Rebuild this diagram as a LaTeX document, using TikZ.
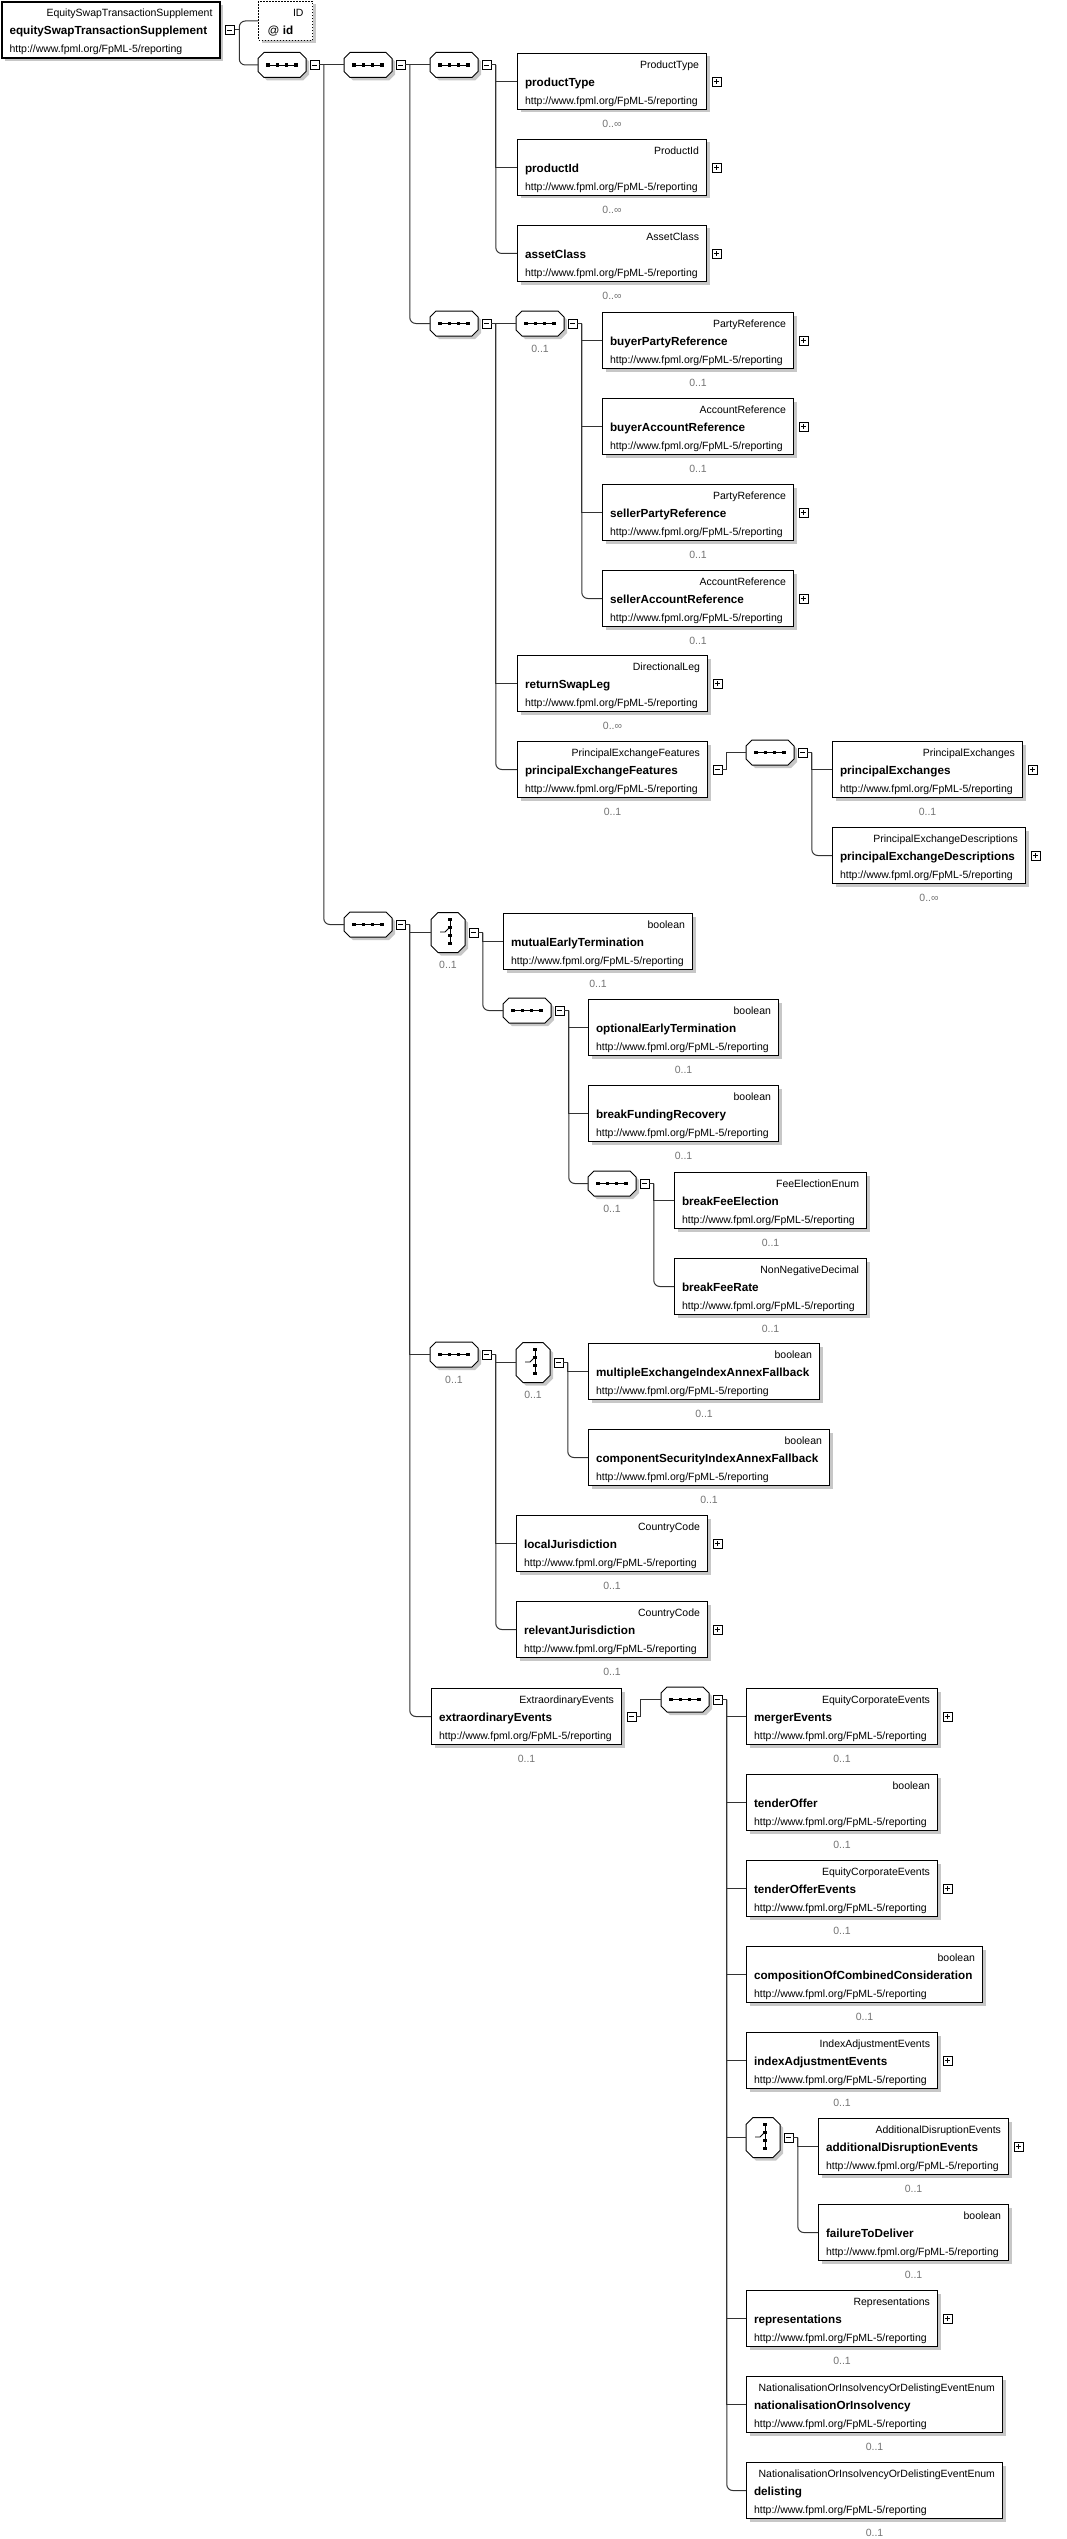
\documentclass[tikz,border=0pt]{standalone}
\usepackage{fontspec}
\setmainfont{Liberation Sans}
\usetikzlibrary{positioning,shadows}
\newcommand{\fpmlns}{http://www.fpml.org/FpML-5/reporting}
\newcommand{\eltype}[1]{\rule{0pt}{11.6pt}\hspace*{\fill}\mbox{#1}}
\newcommand{\elname}[1]{\mbox{\fontsize{11.7pt}{18pt}\selectfont\bfseries #1}}
\begin{document}
\begin{tikzpicture}[x=1pt,y=-1pt,line width=1pt,
boxshadow/.style={drop shadow={shadow xshift=3pt,shadow yshift=-3pt,opacity=1,fill=black!22}},
elem/.style={draw,fill=white,rectangle,boxshadow,align=left,inner xsep=7.5pt,inner ysep=0pt,minimum height=56pt,text width=#1,anchor=north west,font=\fontsize{10.5pt}{18pt}\selectfont},
attrbox/.style={elem=36pt,inner xsep=9pt,minimum height=39pt,dash pattern=on 1.5pt off 1.5pt},
occ/.style={inner sep=0pt,text height=7.5pt,text depth=0pt,text=black!55,font=\fontsize{10.5pt}{12pt}\selectfont},
toggle/.style={draw,fill=white,rectangle,minimum size=9pt,inner sep=0pt,line width=.8pt},
minus/.style={toggle,path picture={\draw[line width=.8pt] ([xshift=-2.5pt]path picture bounding box.center) -- ([xshift=2.5pt]path picture bounding box.center);}},
plus/.style={toggle,path picture={\draw[line width=.8pt] ([xshift=-2.5pt]path picture bounding box.center) -- ([xshift=2.5pt]path picture bounding box.center) ([yshift=-2.5pt]path picture bounding box.center) -- ([yshift=2.5pt]path picture bounding box.center);}},
seq/.style={rectangle,inner sep=0pt,anchor=west,minimum width=47pt,minimum height=24pt},
choice/.style={rectangle,inner sep=0pt,anchor=west,minimum width=33pt,minimum height=39pt},
link/.style={draw=black!80,line width=1pt}]
\useasboundingbox (0,0) rectangle (1067,2539);

% root element and its attribute
\node[elem=203pt,line width=2pt] (root) at (1,1) {\eltype{EquitySwapTransactionSupplement}\\\elname{equitySwapTransactionSupplement}\\\fpmlns};
\node[minus,right=4pt of root] (root-x) {};
\node[attrbox] (attr) at (258,1) {\eltype{ID}\\{\fontsize{11.7pt}{18pt}\selectfont @} \elname{id}};

% compositors
\node[seq] (seq1) at (258,65) {};
\node[seq] (seq2) at (344,65) {};
\node[seq] (seq3) at (430,65) {};
\node[seq] (seqA) at (430,323.5) {};
\node[seq] (seqB) at (516,323.5) {};
\node[seq] (seqC) at (746,752.5) {};
\node[seq] (seqT) at (344,924.5) {};
\node[choice] (choice1) at (431,932.5) {};
\node[seq] (seqD) at (503,1010.5) {};
\node[seq] (seqE) at (588,1183.5) {};
\node[seq] (seqF) at (430,1354.5) {};
\node[choice] (choice2) at (516,1362.5) {};
\node[seq] (seqG) at (661,1699.5) {};
\node[choice] (choice3) at (746,2137.5) {};
\foreach \c/\k in {seq1/6,seq2/6,seq3/6,seqA/6,seqB/6,seqC/6,seqT/6,seqD/6,seqE/6,seqF/6,seqG/6,choice1/7,choice2/7,choice3/7}{
  \fill[black!22] ([shift={(3+\k,3)}]\c.north west) -- ([shift={(3-\k,3)}]\c.north east) -- ([shift={(3,3+\k)}]\c.north east) -- ([shift={(3,3-\k)}]\c.south east) -- ([shift={(3-\k,3)}]\c.south east) -- ([shift={(3+\k,3)}]\c.south west) -- ([shift={(3,3-\k)}]\c.south west) -- ([shift={(3,3+\k)}]\c.north west) -- cycle;
  \draw[fill=white] ([shift={(\k,0)}]\c.north west) -- ([shift={(-\k,0)}]\c.north east) -- ([shift={(0,\k)}]\c.north east) -- ([shift={(0,-\k)}]\c.south east) -- ([shift={(-\k,0)}]\c.south east) -- ([shift={(\k,0)}]\c.south west) -- ([shift={(0,-\k)}]\c.south west) -- ([shift={(0,\k)}]\c.north west) -- cycle;
  \node[minus,right=3.5pt of \c] (\c-x) {};
}
\foreach \c in {seq1,seq2,seq3,seqA,seqB,seqC,seqT,seqD,seqE,seqF,seqG}{
  \draw[line width=.8pt] ([xshift=-14pt]\c.center) -- ([xshift=14pt]\c.center);
  \foreach \dx in {-14,-4.7,4.7,14}
    \fill ([xshift=\dx pt]\c.center) +(-1.7,-1.7) rectangle +(1.7,1.7);
}
\foreach \c in {choice1,choice2,choice3}{
  \draw[line width=.8pt] ([shift={(2,-13)}]\c.center) -- ([shift={(2,11)}]\c.center);
  \foreach \dy in {-13,-5,3,11}
    \fill ([shift={(2,\dy)}]\c.center) +(-1.7,-1.7) rectangle +(1.7,1.7);
  \draw[line width=.8pt] ([shift={(-8,-.5)}]\c.center) -- ([shift={(-3,-.5)}]\c.center) -- ([shift={(1.5,-5)}]\c.center);
}
\node[occ,below=8.3pt of seqB] (seqB-n) {0..1};
\node[occ,below=8.3pt of choice1] (choice1-n) {0..1};
\node[occ,below=8.3pt of seqE] (seqE-n) {0..1};
\node[occ,below=8.3pt of seqF] (seqF-n) {0..1};
\node[occ,below=8.3pt of choice2] (choice2-n) {0..1};

% elements
\node[elem=174pt] (productType) at (517,53) {\eltype{ProductType}\\\elname{productType}\\\fpmlns};
\node[elem=174pt] (productId) at (517,139) {\eltype{ProductId}\\\elname{productId}\\\fpmlns};
\node[elem=174pt] (assetClass) at (517,225) {\eltype{AssetClass}\\\elname{assetClass}\\\fpmlns};
\node[elem=176pt] (buyerPartyReference) at (602,312) {\eltype{PartyReference}\\\elname{buyerPartyReference}\\\fpmlns};
\node[elem=176pt] (buyerAccountReference) at (602,398) {\eltype{AccountReference}\\\elname{buyerAccountReference}\\\fpmlns};
\node[elem=176pt] (sellerPartyReference) at (602,484) {\eltype{PartyReference}\\\elname{sellerPartyReference}\\\fpmlns};
\node[elem=176pt] (sellerAccountReference) at (602,570) {\eltype{AccountReference}\\\elname{sellerAccountReference}\\\fpmlns};
\node[elem=175pt] (returnSwapLeg) at (517,655) {\eltype{DirectionalLeg}\\\elname{returnSwapLeg}\\\fpmlns};
\node[elem=175pt] (principalExchangeFeatures) at (517,741) {\eltype{PrincipalExchangeFeatures}\\\elname{principalExchangeFeatures}\\\fpmlns};
\node[elem=175pt] (principalExchanges) at (832,741) {\eltype{PrincipalExchanges}\\\elname{principalExchanges}\\\fpmlns};
\node[elem=178pt] (principalExchangeDescriptions) at (832,827) {\eltype{PrincipalExchangeDescriptions}\\\elname{principalExchangeDescriptions}\\\fpmlns};
\node[elem=174pt] (mutualEarlyTermination) at (503,913) {\eltype{boolean}\\\elname{mutualEarlyTermination}\\\fpmlns};
\node[elem=175pt] (optionalEarlyTermination) at (588,999) {\eltype{boolean}\\\elname{optionalEarlyTermination}\\\fpmlns};
\node[elem=175pt] (breakFundingRecovery) at (588,1085) {\eltype{boolean}\\\elname{breakFundingRecovery}\\\fpmlns};
\node[elem=177pt] (breakFeeElection) at (674,1172) {\eltype{FeeElectionEnum}\\\elname{breakFeeElection}\\\fpmlns};
\node[elem=177pt] (breakFeeRate) at (674,1258) {\eltype{NonNegativeDecimal}\\\elname{breakFeeRate}\\\fpmlns};
\node[elem=216pt] (multipleExchangeIndexAnnexFallback) at (588,1343) {\eltype{boolean}\\\elname{multipleExchangeIndexAnnexFallback}\\\fpmlns};
\node[elem=226pt] (componentSecurityIndexAnnexFallback) at (588,1429) {\eltype{boolean}\\\elname{componentSecurityIndexAnnexFallback}\\\fpmlns};
\node[elem=176pt] (localJurisdiction) at (516,1515) {\eltype{CountryCode}\\\elname{localJurisdiction}\\\fpmlns};
\node[elem=176pt] (relevantJurisdiction) at (516,1601) {\eltype{CountryCode}\\\elname{relevantJurisdiction}\\\fpmlns};
\node[elem=175pt] (extraordinaryEvents) at (431,1688) {\eltype{ExtraordinaryEvents}\\\elname{extraordinaryEvents}\\\fpmlns};
\node[elem=176pt] (mergerEvents) at (746,1688) {\eltype{EquityCorporateEvents}\\\elname{mergerEvents}\\\fpmlns};
\node[elem=176pt] (tenderOffer) at (746,1774) {\eltype{boolean}\\\elname{tenderOffer}\\\fpmlns};
\node[elem=176pt] (tenderOfferEvents) at (746,1860) {\eltype{EquityCorporateEvents}\\\elname{tenderOfferEvents}\\\fpmlns};
\node[elem=221pt] (compositionOfCombinedConsideration) at (746,1946) {\eltype{boolean}\\\elname{compositionOfCombinedConsideration}\\\fpmlns};
\node[elem=176pt] (indexAdjustmentEvents) at (746,2032) {\eltype{IndexAdjustmentEvents}\\\elname{indexAdjustmentEvents}\\\fpmlns};
\node[elem=175pt] (additionalDisruptionEvents) at (818,2118) {\eltype{AdditionalDisruptionEvents}\\\elname{additionalDisruptionEvents}\\\fpmlns};
\node[elem=175pt] (failureToDeliver) at (818,2204) {\eltype{boolean}\\\elname{failureToDeliver}\\\fpmlns};
\node[elem=176pt] (representations) at (746,2290) {\eltype{Representations}\\\elname{representations}\\\fpmlns};
\node[elem=241pt] (nationalisationOrInsolvency) at (746,2376) {\eltype{NationalisationOrInsolvencyOrDelistingEventEnum}\\\elname{nationalisationOrInsolvency}\\\fpmlns};
\node[elem=241pt] (delisting) at (746,2462) {\eltype{NationalisationOrInsolvencyOrDelistingEventEnum}\\\elname{delisting}\\\fpmlns};

% expand / collapse boxes
\foreach \e in {productType,productId,assetClass,buyerPartyReference,buyerAccountReference,sellerPartyReference,sellerAccountReference,returnSwapLeg,principalExchanges,principalExchangeDescriptions,localJurisdiction,relevantJurisdiction,mergerEvents,tenderOfferEvents,indexAdjustmentEvents,additionalDisruptionEvents,representations}
  \node[plus,right=4.5pt of \e] (\e-x) {};
\node[minus,right=4.5pt of principalExchangeFeatures] (principalExchangeFeatures-x) {};
\node[minus,right=4.5pt of extraordinaryEvents] (extraordinaryEvents-x) {};

% occurrences
\foreach \e in {productType,productId,assetClass,returnSwapLeg,principalExchangeDescriptions}
  \node[occ,below=9.3pt of \e] (\e-n) {0..∞};
\foreach \e in {buyerPartyReference,buyerAccountReference,sellerPartyReference,sellerAccountReference,principalExchangeFeatures,principalExchanges,mutualEarlyTermination,optionalEarlyTermination,breakFundingRecovery,breakFeeElection,breakFeeRate,multipleExchangeIndexAnnexFallback,componentSecurityIndexAnnexFallback,localJurisdiction,relevantJurisdiction,extraordinaryEvents,mergerEvents,tenderOffer,tenderOfferEvents,compositionOfCombinedConsideration,indexAdjustmentEvents,additionalDisruptionEvents,failureToDeliver,representations,nationalisationOrInsolvency,delisting}
  \node[occ,below=9.3pt of \e] (\e-n) {0..1};

% connectors
\foreach \p in {root,seq1,seq2,seq3,seqA,seqB,seqC,seqT,choice1,seqD,seqE,seqF,choice2,seqG,choice3,principalExchangeFeatures,extraordinaryEvents}{
  \coordinate[right=4.5pt of \p-x] (\p-v);
  \draw[link] (\p-x) -- (\p-v);
}
\draw[link,rounded corners=6pt] (root-v) |- (attr);
\draw[link,rounded corners=6pt] (root-v) |- (seq1);
\draw[link] (seq1-v) |- (seq2);
\draw[link,rounded corners=6pt] (seq1-v) |- (seqT);
\draw[link] (seq2-v) |- (seq3);
\draw[link,rounded corners=6pt] (seq2-v) |- (seqA);
\draw[link] (seq3-v) |- (productType);
\draw[link] (seq3-v) |- (productId);
\draw[link,rounded corners=6pt] (seq3-v) |- (assetClass);
\draw[link] (seqA-v) |- (seqB);
\draw[link] (seqA-v) |- (returnSwapLeg);
\draw[link,rounded corners=6pt] (seqA-v) |- (principalExchangeFeatures);
\draw[link] (seqB-v) |- (buyerPartyReference);
\draw[link] (seqB-v) |- (buyerAccountReference);
\draw[link] (seqB-v) |- (sellerPartyReference);
\draw[link,rounded corners=6pt] (seqB-v) |- (sellerAccountReference);
\draw[link] (principalExchangeFeatures-v) |- (seqC);
\draw[link] (seqC-v) |- (principalExchanges);
\draw[link,rounded corners=6pt] (seqC-v) |- (principalExchangeDescriptions);
\draw[link] (seqT-v) |- (choice1);
\draw[link] (seqT-v) |- (seqF);
\draw[link,rounded corners=6pt] (seqT-v) |- (extraordinaryEvents);
\draw[link] (choice1-v) |- (mutualEarlyTermination);
\draw[link,rounded corners=6pt] (choice1-v) |- (seqD);
\draw[link] (seqD-v) |- (optionalEarlyTermination);
\draw[link] (seqD-v) |- (breakFundingRecovery);
\draw[link,rounded corners=6pt] (seqD-v) |- (seqE);
\draw[link] (seqE-v) |- (breakFeeElection);
\draw[link,rounded corners=6pt] (seqE-v) |- (breakFeeRate);
\draw[link] (seqF-v) |- (choice2);
\draw[link] (seqF-v) |- (localJurisdiction);
\draw[link,rounded corners=6pt] (seqF-v) |- (relevantJurisdiction);
\draw[link] (choice2-v) |- (multipleExchangeIndexAnnexFallback);
\draw[link,rounded corners=6pt] (choice2-v) |- (componentSecurityIndexAnnexFallback);
\draw[link] (extraordinaryEvents-v) |- (seqG);
\foreach \e in {mergerEvents,tenderOffer,tenderOfferEvents,compositionOfCombinedConsideration,indexAdjustmentEvents,choice3,representations,nationalisationOrInsolvency}
  \draw[link] (seqG-v) |- (\e);
\draw[link,rounded corners=6pt] (seqG-v) |- (delisting);
\draw[link] (choice3-v) |- (additionalDisruptionEvents);
\draw[link,rounded corners=6pt] (choice3-v) |- (failureToDeliver);
\end{tikzpicture}
\end{document}
